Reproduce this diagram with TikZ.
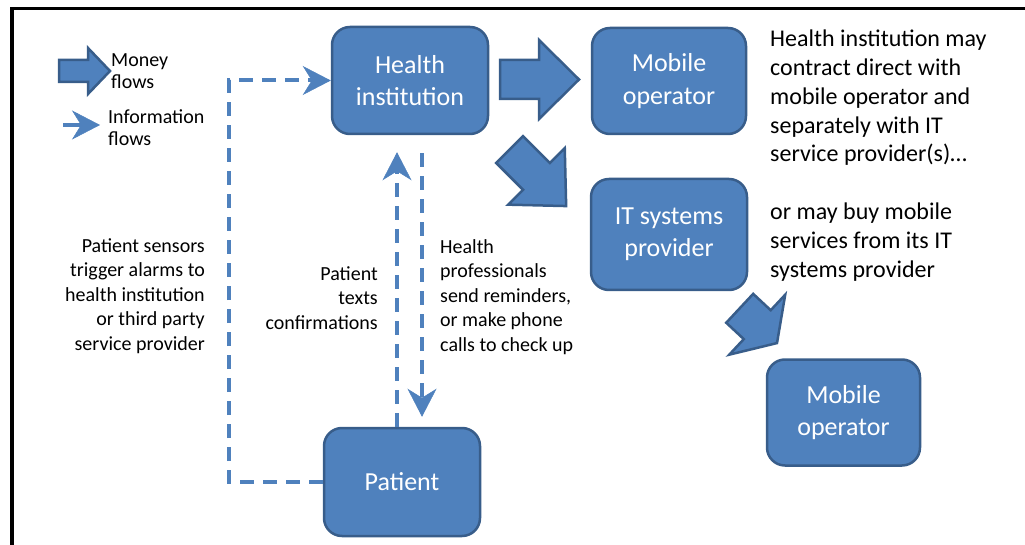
\documentclass[tikz,border=0pt]{standalone}
\usepackage{fontspec}
\setmainfont{Carlito}
\usetikzlibrary{arrows.meta}
\definecolor{boxfill}{HTML}{4F81BD}
\definecolor{boxline}{HTML}{385D8A}
\tikzset{
 boxnode/.style={draw=boxline, fill=boxfill, line width=2.5pt, rounded corners=18pt, text=white, align=center, font=\fontsize{26}{32.5}\selectfont, inner sep=0pt},
 infotip/.style={-{Stealth[length=28pt,width=29pt,inset=9pt,line width=0.5pt]}},
 infoflow/.style={draw=boxfill, line width=4pt, dash pattern=on 14pt off 9pt, infotip},
 moneyflow/.style={draw=boxline, fill=boxfill, line width=2.5pt, line join=miter},
 sidetext/.style={text=black, inner sep=0pt, font=\fontsize{20}{24.5}\selectfont},
 notetext/.style={text=black, inner sep=0pt, align=left, font=\fontsize{24}{28.7}\selectfont},
 legendtext/.style={text=black, inner sep=0pt, align=left, font=\fontsize{20}{22.5}\selectfont},
}
% #1 tail coordinate, #2 angle, #3 length, #4 head length, #5 shaft width, #6 head width
\newcommand{\blockarrow}[6]{%
 \begin{scope}[shift={(#1)}, rotate=#2]
  \draw[moneyflow] (0,{#5/2}) -- ({#3-#4},{#5/2}) -- ({#3-#4},{#6/2}) -- (#3,0)
   -- ({#3-#4},{-#6/2}) -- ({#3-#4},{-#5/2}) -- (0,{-#5/2}) -- cycle;
 \end{scope}}
\begin{document}
\begin{tikzpicture}[x=1pt,y=-1pt]
\useasboundingbox (0,0) rectangle (1025,545);
% frame
\draw[line width=3.5pt] (12,545) -- (12,8.5) -- (1025,8.5);

% boxes
\node[boxnode, minimum width=156pt, minimum height=107pt] (health) at (410,80.5) {Health\\institution};
\node[boxnode, minimum width=154pt, minimum height=106pt] (mob1) at (669,81) {Mobile\\operator};
\node[boxnode, minimum width=156pt, minimum height=111pt] (its) at (669,234.5) {IT systems\\provider};
\node[boxnode, minimum width=153pt, minimum height=106pt] (mob2) at (843.5,412.5) {Mobile\\operator};
\node[boxnode, minimum width=156pt, minimum height=108pt] (patient) at (402,482) {Patient};

% legend
\coordinate (lgm) at (59,71);
\blockarrow{lgm}{0}{51}{22}{22}{46}
\node[legendtext, anchor=west] (lgmt) at (111,71) {Money\\flows};
\coordinate (lgia) at (63,125);
\coordinate (lgib) at (100,125);
\draw[draw=boxfill, line width=4pt, infotip] (lgia) -- (lgib);
\node[legendtext, anchor=west] (lgit) at (108,127.5) {Information\\flows};

% money flows
\coordinate (m1) at (500,79.5);
\blockarrow{m1}{0}{79}{40}{39}{79}
\coordinate (m2) at (509.6,149.5);
\blockarrow{m2}{-45}{80}{42}{38}{80}
\coordinate (m3) at (739.7,308.3);
\blockarrow{m3}{-43}{51}{27}{39.5}{82}

% information flows
\draw[infoflow] (patient.west) -- ++(-94,0) |- (health.west);
\draw[infoflow] ([xshift=-5pt]patient.north) -- ([xshift=-13pt,yshift=-17pt]health.south);
\draw[infoflow] ([xshift=12pt,yshift=-18pt]health.south) -- ([xshift=20pt,yshift=10pt]patient.north);

% texts
\node[sidetext, align=right, anchor=east] (t1) at (205,296) {Patient sensors\\trigger alarms to\\health institution\\or third party\\service provider};
\node[sidetext, align=right, anchor=east] (t2) at (378,298) {Patient\\texts\\confirmations};
\node[sidetext, align=left, anchor=west] (t3) at (440,297) {Health\\professionals\\send reminders,\\or make phone\\calls to check up};
\node[notetext, anchor=west] (t4) at (770,98) {Health institution may\\contract direct with\\mobile operator and\\separately with IT\\service provider(s)…};
\node[notetext, anchor=west] (t5) at (770,242) {or may buy mobile\\services from its IT\\systems provider};
\end{tikzpicture}
\end{document}
